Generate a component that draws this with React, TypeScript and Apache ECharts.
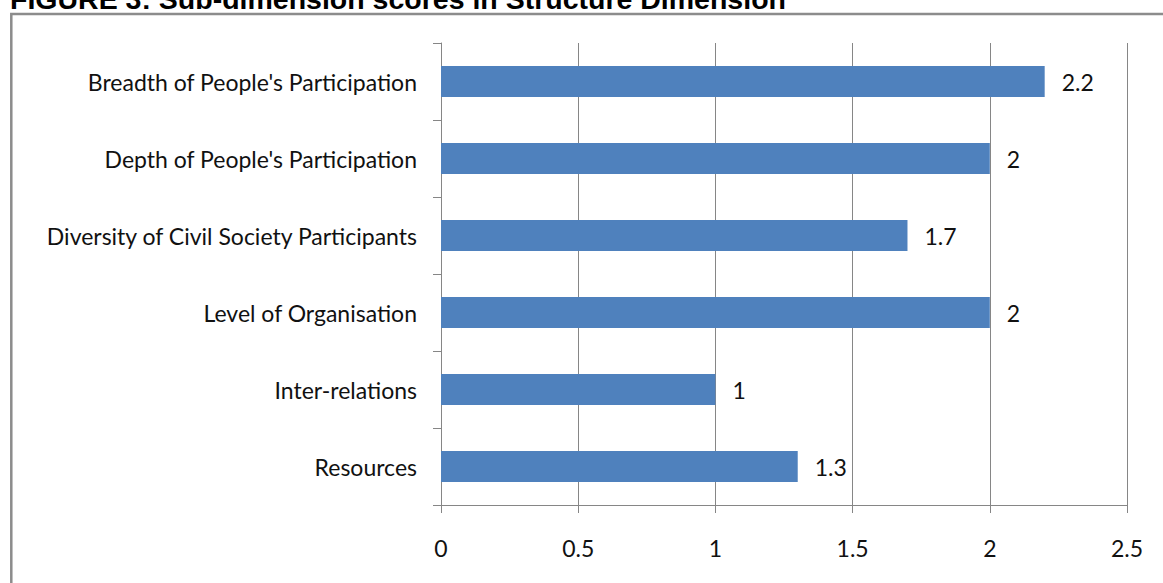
import React, { useEffect, useRef } from "react";
import * as echarts from "echarts";

// Sub-dimension names, listed bottom to top as ECharts draws a category y axis
const categories: string[] = [
  "Resources",
  "Inter-relations",
  "Level of Organisation",
  "Diversity of Civil Society Participants",
  "Depth of People's Participation",
  "Breadth of People's Participation",
];

// Score for each sub-dimension, same order as categories
const scores: number[] = [1.3, 1, 2, 1.7, 2, 2.2];

// Value axis range and step
const axisMin = 0;
const axisMax = 2.5;
const axisStep = 0.5;

const titleText = "FIGURE 3: Sub-dimension scores in Structure Dimension";

const LABEL_FONT = "Lato, 'Open Sans', 'DejaVu Sans', sans-serif";
const GRID_GREY = "#868686";
const TEXT_COLOR = "#111111";

export default function App() {
  const ref = useRef<HTMLDivElement | null>(null);

  useEffect(() => {
    if (!ref.current) return;
    const chart = echarts.init(ref.current, undefined, { renderer: "svg" });

    chart.setOption({
      animation: false,
      backgroundColor: "#ffffff",
      graphic: [
        {
          type: "rect",
          z: 0,
          shape: { x: 11.3, y: 14, width: 1300, height: 700 },
          style: { fill: "none", stroke: "#8c8c8c", lineWidth: 2.5 },
        },
        {
          type: "text",
          z: 10,
          x: 10,
          y: -1,
          style: {
            text: titleText,
            font: "bold 28.5px 'Liberation Sans', Arial, sans-serif",
            fill: "#000000",
            verticalAlign: "middle",
            align: "left",
          },
        },
      ],
      grid: {
        left: 441,
        right: 36,
        top: 43,
        bottom: 78,
        containLabel: false,
      },
      xAxis: {
        type: "value",
        min: axisMin,
        max: axisMax,
        interval: axisStep,
        axisLine: { show: true, lineStyle: { color: GRID_GREY, width: 1 } },
        axisTick: {
          show: true,
          inside: false,
          length: 8,
          lineStyle: { color: GRID_GREY, width: 1 },
        },
        splitLine: { show: true, lineStyle: { color: GRID_GREY, width: 1 } },
        axisLabel: {
          margin: 31,
          fontFamily: LABEL_FONT,
          fontSize: 23,
          color: TEXT_COLOR,
          formatter: (v: number) => String(v),
        },
      },
      yAxis: {
        type: "category",
        data: categories,
        boundaryGap: true,
        axisLine: { show: true, lineStyle: { color: GRID_GREY, width: 1 } },
        axisTick: {
          show: true,
          inside: false,
          length: 8,
          alignWithLabel: false,
          lineStyle: { color: GRID_GREY, width: 1 },
        },
        splitLine: { show: false },
        axisLabel: {
          margin: 24,
          fontFamily: LABEL_FONT,
          fontSize: 23,
          color: TEXT_COLOR,
        },
      },
      series: [
        {
          type: "bar",
          data: scores,
          barWidth: "40%",
          itemStyle: { color: "#4F81BD" },
          label: {
            show: true,
            position: "right",
            distance: 17,
            fontFamily: LABEL_FONT,
            fontSize: 23,
            color: TEXT_COLOR,
            formatter: (p: any) => String(p.value),
          },
        },
      ],
    });

    return () => chart.dispose();
  }, []);

  return (
    <div
      ref={ref}
      style={{
        position: "absolute",
        left: 0,
        top: 0,
        width: 1163,
        height: 583,
        background: "#ffffff",
      }}
    />
  );
}
